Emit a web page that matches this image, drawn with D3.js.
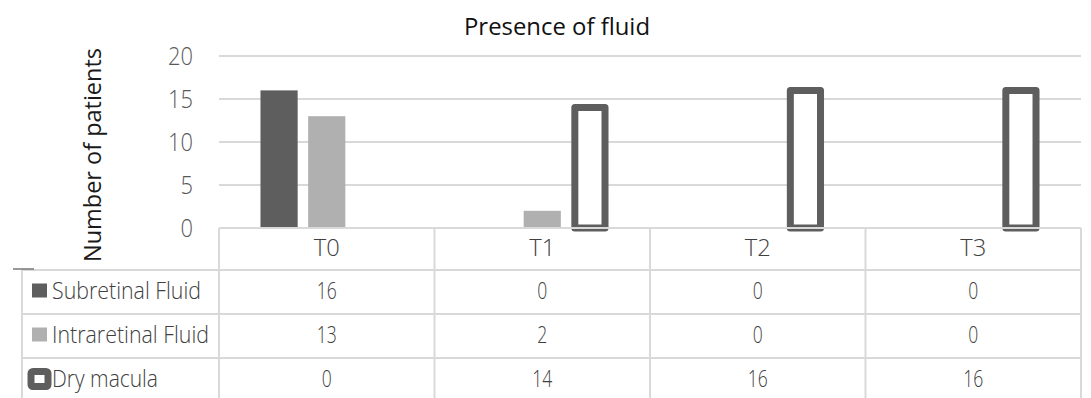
<!DOCTYPE html>
<html>
<head>
<meta charset="utf-8">
<script src="https://cdn.jsdelivr.net/npm/d3@7"></script>
<style>
  body { margin: 0; background: #fff; }
  text { font-family: "Open Sans", "Noto Sans", sans-serif; }
</style>
</head>
<body>
<svg id="main-chart"></svg>
<script>
// chart data
const categories = ["T0", "T1", "T2", "T3"];
const seriesNames = ["Subretinal Fluid", "Intraretinal Fluid", "Dry macula"];
const subretinal = [16, 0, 0, 0];
const intraretinal = [13, 2, 0, 0];
const dryMacula = [0, 14, 16, 16];
const yTicks = [0, 5, 10, 15, 20];

const seriesValues = [subretinal, intraretinal, dryMacula];

function plotchart() {
  const width = 1091;
  const height = 398;
  const margin = {top: 56, right: 10, bottom: 170, left: 219};
  const rowH = 44;
  const headerH = 42;
  const gridColor = "#d9d9d9";
  const dark = "#5e5e5e";
  const light = "#b0b0b0";
  const tableFont = 24;

  const svg = d3.select("#main-chart")
    .attr("width", width)
    .attr("height", height);

  const x0 = d3.scaleBand()
    .domain(categories)
    .range([margin.left, width - margin.right])
    .padding(0);

  const x1 = d3.scaleBand()
    .domain(d3.range(seriesNames.length))
    .range([0, x0.bandwidth()])
    .paddingInner(0.22)
    .paddingOuter(0.87);

  const y = d3.scaleLinear()
    .domain([0, 20])
    .range([height - margin.bottom, margin.top]);

  // gridlines
  svg.append("g")
    .selectAll("line")
    .data(yTicks.filter(d => d > 0))
    .join("line")
    .attr("x1", margin.left)
    .attr("x2", width - margin.right)
    .attr("y1", d => y(d))
    .attr("y2", d => y(d))
    .attr("stroke", gridColor)
    .attr("stroke-width", 2);

  // y axis labels
  const yAxis = g => g
    .attr("transform", `translate(${margin.left - 26},0)`)
    .call(d3.axisLeft(y).tickValues(yTicks).tickSize(0).tickPadding(0))
    .call(g => g.select(".domain").remove())
    .call(g => g.selectAll("text")
      .attr("fill", "#595959")
      .attr("font-size", 25)
      .attr("font-weight", 300)
      .attr("dy", "0.34em")
      .attr("textLength", d => d >= 10 ? 25 : 12.5)
      .attr("lengthAdjust", "spacingAndGlyphs")
      .style("font-family", '"Open Sans", sans-serif'));
  svg.append("g").call(yAxis);

  svg.append("text")
    .attr("transform", `translate(101,155) rotate(-90)`)
    .attr("text-anchor", "middle")
    .attr("font-size", 24)
    .attr("fill", "#1a1a1a")
    .attr("textLength", 214)
    .attr("lengthAdjust", "spacingAndGlyphs")
    .text("Number of patients");

  svg.append("text")
    .attr("x", 557)
    .attr("y", 35)
    .attr("text-anchor", "middle")
    .attr("font-size", 23)
    .attr("fill", "#111")
    .attr("textLength", 186)
    .attr("lengthAdjust", "spacingAndGlyphs")
    .text("Presence of fluid");

  // bars
  const groups = svg.append("g")
    .selectAll("g")
    .data(categories)
    .join("g")
    .attr("transform", c => `translate(${x0(c)},0)`);

  groups.selectAll("rect")
    .data((c, i) => seriesValues.map((vals, s) => ({s, v: vals[i]})))
    .join("rect")
    .filter(d => d.v > 0)
    .attr("x", d => d.s === 2 ? x1(d.s) + 3.5 : x1(d.s))
    .attr("width", d => d.s === 2 ? x1.bandwidth() - 7 : x1.bandwidth())
    .attr("y", d => y(d.v))
    .attr("height", d => y(0) - y(d.v))
    .attr("fill", d => d.s === 0 ? dark : d.s === 1 ? light : "#fff")
    .attr("stroke", d => d.s === 2 ? dark : "none")
    .attr("stroke-width", 7)
    .attr("stroke-linejoin", "round");

  // data table
  const tTop = y(0);
  const rowTops = [tTop + headerH, tTop + headerH + rowH, tTop + headerH + 2 * rowH];
  const table = svg.append("g").attr("stroke", gridColor).attr("stroke-width", 2);

  table.append("line")
    .attr("x1", margin.left).attr("x2", width - margin.right)
    .attr("y1", tTop).attr("y2", tTop);
  table.selectAll(".hrow")
    .data(rowTops)
    .join("line")
    .attr("class", "hrow")
    .attr("x1", 22).attr("x2", width - margin.right)
    .attr("y1", d => d).attr("y2", d => d);
  table.selectAll(".vcol")
    .data(categories.map(c => x0(c)).concat([width - margin.right]))
    .join("line")
    .attr("class", "vcol")
    .attr("x1", d => d).attr("x2", d => d)
    .attr("y1", tTop).attr("y2", height);
  table.append("line")
    .attr("x1", 22).attr("x2", 22)
    .attr("y1", rowTops[0]).attr("y2", height);
  svg.append("line")
    .attr("x1", 13).attr("x2", 34)
    .attr("y1", rowTops[0] - 1).attr("y2", rowTops[0] - 1)
    .attr("stroke", "#777").attr("stroke-width", 1.5);

  // header
  svg.append("g")
    .selectAll("text")
    .data(categories)
    .join("text")
    .attr("x", c => x0(c) + x0.bandwidth() / 2)
    .attr("y", tTop + headerH / 2 - 1.5)
    .attr("dy", "0.35em")
    .attr("text-anchor", "middle")
    .attr("font-size", tableFont)
    .attr("font-weight", 300)
    .attr("fill", "#404040")
    .attr("textLength", 26)
    .attr("lengthAdjust", "spacingAndGlyphs")
    .text(c => c);

  // rows
  seriesNames.forEach((name, s) => {
    const cy = rowTops[s] + rowH / 2 - 1.5;
    if (s < 2) {
      svg.append("rect")
        .attr("x", 32).attr("y", cy - 7)
        .attr("width", 15).attr("height", 14)
        .attr("fill", s === 0 ? dark : light);
    } else {
      svg.append("rect")
        .attr("x", 31).attr("y", cy - 7)
        .attr("width", 17).attr("height", 15)
        .attr("rx", 2)
        .attr("fill", "#fff")
        .attr("stroke", dark)
        .attr("stroke-width", 7);
    }
    svg.append("text")
      .attr("x", 52)
      .attr("y", cy)
      .attr("dy", "0.35em")
      .attr("font-size", tableFont)
      .attr("font-weight", 300)
      .attr("fill", "#404040")
      .attr("textLength", s === 0 ? 149 : s === 1 ? 157 : 106)
      .attr("lengthAdjust", "spacingAndGlyphs")
      .text(name);
    svg.append("g")
      .selectAll("text")
      .data(seriesValues[s])
      .join("text")
      .attr("x", (v, i) => x0(categories[i]) + x0.bandwidth() / 2)
      .attr("y", cy)
      .attr("dy", "0.35em")
      .attr("text-anchor", "middle")
      .attr("font-size", tableFont)
      .attr("font-weight", 300)
      .attr("fill", "#404040")
      .attr("textLength", v => v >= 10 ? 20 : 10)
      .attr("lengthAdjust", "spacingAndGlyphs")
      .text(v => v);
  });
}

plotchart();
</script>
</body>
</html>
